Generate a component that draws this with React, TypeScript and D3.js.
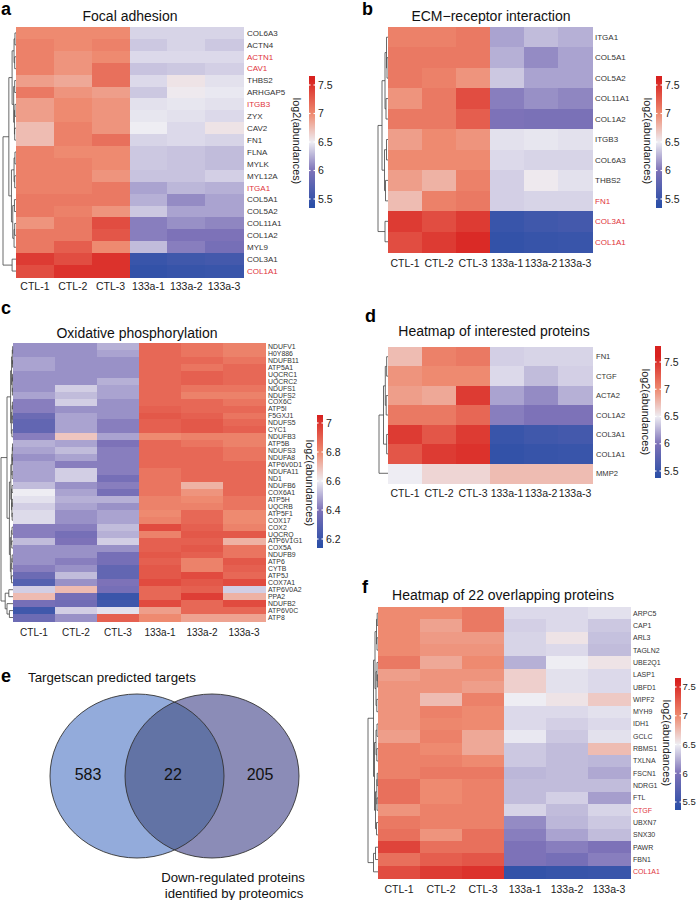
import React from "react";
import * as d3 from "d3";

type Tree = number | [number, Tree, Tree];

const COLS = ["CTL-1", "CTL-2", "CTL-3", "133a-1", "133a-2", "133a-3"];
const TICKS_MAIN = [5.5, 6, 6.5, 7, 7.5];
const TICKS_OX = [6.2, 6.4, 6.6, 6.8, 7];

// ---------- a: Focal adhesion ----------
const A_ROWS = ["COL6A3", "ACTN4", "ACTN1", "CAV1", "THBS2", "ARHGAP5", "ITGB3", "ZYX", "CAV2", "FN1", "FLNA", "MYLK", "MYL12A", "ITGA1", "COL5A1", "COL5A2", "COL11A1", "COL1A2", "MYL9", "COL3A1", "COL1A1"];
const A_RED = ["ACTN1", "CAV1", "ITGB3", "ITGA1", "COL1A1"];
const A_VALUES = [
  [7.0, 7.0, 7.0, 6.4, 6.4, 6.4],
  [7.05, 7.0, 7.05, 6.35, 6.4, 6.35],
  [7.05, 6.95, 7.0, 6.42, 6.42, 6.42],
  [7.05, 6.95, 7.15, 6.33, 6.35, 6.38],
  [6.9, 6.85, 7.15, 6.42, 6.55, 6.45],
  [7.1, 6.95, 6.9, 6.35, 6.52, 6.48],
  [6.9, 7.0, 6.95, 6.45, 6.47, 6.45],
  [6.9, 7.0, 6.95, 6.47, 6.45, 6.42],
  [6.75, 7.05, 6.95, 6.5, 6.42, 6.55],
  [6.75, 7.05, 7.15, 6.4, 6.42, 6.4],
  [7.05, 7.0, 7.0, 6.35, 6.33, 6.3],
  [7.05, 7.05, 7.0, 6.35, 6.33, 6.3],
  [7.05, 7.05, 6.95, 6.33, 6.33, 6.38],
  [7.05, 7.05, 7.1, 6.2, 6.28, 6.25],
  [7.1, 7.1, 7.1, 6.25, 6.1, 6.2],
  [7.1, 7.05, 6.95, 6.35, 6.2, 6.2],
  [6.95, 7.1, 7.35, 6.05, 6.12, 6.08],
  [7.1, 7.1, 7.3, 6.05, 6.0, 6.0],
  [7.1, 7.25, 7.0, 6.3, 6.05, 5.95],
  [7.45, 7.35, 7.5, 5.5, 5.55, 5.58],
  [7.35, 7.5, 7.5, 5.45, 5.48, 5.5],
];
const A_TREE: Tree = [1.0,
  [0.55,
    [0.3, [0.15, [0.08, 0, 1], [0.1, 2, 3]], [0.18, [0.1, 4, 5], [0.12, [0.08, 6, 7], [0.1, 8, 9]]]],
    [0.35, [0.15, [0.08, 10, 11], [0.1, 12, 13]], [0.25, [0.12, 14, 15], [0.15, [0.1, 16, 17], 18]]]],
  [0.3, 19, 20]];

// ---------- b: ECM-receptor interaction ----------
const B_ROWS = ["ITGA1", "COL5A1", "COL5A2", "COL11A1", "COL1A2", "ITGB3", "COL6A3", "THBS2", "FN1", "COL3A1", "COL1A1"];
const B_RED = ["FN1", "COL3A1", "COL1A1"];
const B_VALUES = [
  [7.05, 7.05, 7.1, 6.2, 6.3, 6.25],
  [7.1, 7.1, 7.1, 6.25, 6.1, 6.2],
  [7.1, 7.05, 6.95, 6.35, 6.2, 6.2],
  [6.95, 7.1, 7.35, 6.05, 6.12, 6.08],
  [7.1, 7.1, 7.25, 6.0, 5.98, 5.98],
  [6.9, 7.0, 6.95, 6.45, 6.47, 6.45],
  [7.0, 7.0, 7.0, 6.42, 6.4, 6.4],
  [6.9, 6.8, 7.05, 6.38, 6.52, 6.45],
  [6.75, 7.05, 7.1, 6.38, 6.4, 6.4],
  [7.45, 7.35, 7.45, 5.5, 5.55, 5.58],
  [7.35, 7.45, 7.55, 5.45, 5.48, 5.5],
];
const B_TREE: Tree = [1.0,
  [0.6, [0.3, [0.15, 0, [0.1, 1, 2]], [0.2, 3, 4]], [0.35, [0.15, 5, 6], [0.25, 7, 8]]],
  [0.3, 9, 10]];

// ---------- c: Oxidative phosphorylation ----------
const C_ROWS = ["NDUFV1", "H0Y886", "NDUFB11", "ATP5A1", "UQCRC1", "UQCRC2", "NDUFS1", "NDUFS2", "COX6C", "ATP5I", "F5GXJ1", "NDUFS5", "CYC1", "NDUFB3", "ATP5B", "NDUFS3", "NDUFA8", "ATP6V0D1", "NDUFA11", "ND1", "NDUFB6", "COX6A1", "ATP5H", "UQCRB", "ATP5F1", "COX17", "COX2", "UQCRQ", "ATP6V1G1", "COX5A", "NDUFB9", "ATP6", "CYTB", "ATP5J", "COX7A1", "ATP6V0A2", "PPA2", "NDUFB2", "ATP6V0C", "ATP8"];
const C_RED: string[] = [];
const C_VALUES = [
  [6.45, 6.45, 6.5, 6.88, 6.85, 6.82],
  [6.45, 6.45, 6.48, 6.88, 6.85, 6.82],
  [6.48, 6.45, 6.45, 6.88, 6.88, 6.85],
  [6.48, 6.45, 6.45, 6.88, 6.85, 6.88],
  [6.45, 6.45, 6.45, 6.88, 6.9, 6.88],
  [6.45, 6.45, 6.5, 6.88, 6.9, 6.88],
  [6.45, 6.55, 6.48, 6.88, 6.85, 6.85],
  [6.48, 6.52, 6.48, 6.88, 6.82, 6.82],
  [6.42, 6.55, 6.45, 6.88, 6.88, 6.85],
  [6.42, 6.45, 6.45, 6.9, 6.88, 6.88],
  [6.35, 6.48, 6.45, 6.92, 6.9, 6.85],
  [6.32, 6.48, 6.42, 6.9, 6.92, 6.88],
  [6.32, 6.48, 6.42, 6.9, 6.92, 6.9],
  [6.42, 6.68, 6.48, 6.8, 6.82, 6.82],
  [6.5, 6.48, 6.4, 6.88, 6.85, 6.82],
  [6.48, 6.52, 6.42, 6.88, 6.88, 6.85],
  [6.45, 6.48, 6.42, 6.88, 6.88, 6.85],
  [6.48, 6.42, 6.42, 6.88, 6.88, 6.88],
  [6.48, 6.55, 6.42, 6.85, 6.88, 6.88],
  [6.48, 6.55, 6.38, 6.85, 6.88, 6.88],
  [6.52, 6.45, 6.42, 6.85, 6.72, 6.88],
  [6.6, 6.48, 6.38, 6.85, 6.78, 6.88],
  [6.58, 6.5, 6.5, 6.82, 6.8, 6.85],
  [6.55, 6.48, 6.45, 6.82, 6.82, 6.85],
  [6.57, 6.45, 6.48, 6.8, 6.88, 6.8],
  [6.57, 6.45, 6.48, 6.82, 6.88, 6.8],
  [6.42, 6.42, 6.52, 6.95, 6.9, 6.82],
  [6.42, 6.38, 6.5, 6.82, 6.92, 6.92],
  [6.52, 6.4, 6.55, 6.9, 6.9, 6.72],
  [6.45, 6.45, 6.45, 6.9, 6.92, 6.85],
  [6.45, 6.45, 6.38, 6.92, 6.9, 6.85],
  [6.45, 6.42, 6.38, 6.9, 6.82, 6.92],
  [6.42, 6.45, 6.32, 6.92, 6.82, 6.9],
  [6.35, 6.52, 6.32, 6.92, 6.95, 6.88],
  [6.28, 6.45, 6.4, 6.95, 6.92, 6.95],
  [6.55, 6.7, 6.38, 6.88, 6.9, 6.55],
  [6.7, 6.38, 6.2, 6.88, 6.98, 6.72],
  [6.38, 6.36, 6.22, 6.95, 6.88, 6.95],
  [6.22, 6.55, 6.58, 6.76, 6.88, 6.88],
  [6.35, 6.45, 6.9, 6.8, 6.75, 6.75],
];
const C_TREE: Tree = [1.0,
  [0.5,
    [0.2, [0.12, [0.06, [0.03, 0, 1], [0.04, 2, 3]], [0.07, [0.04, 4, 5], [0.05, 6, 7]]], [0.14, [0.08, [0.05, 8, 9], [0.06, 10, 11]], [0.09, 12, 13]]],
    [0.3, [0.18, [0.1, [0.06, [0.04, 14, 15], [0.05, 16, 17]], [0.07, 18, 19]], [0.12, [0.08, 20, 21], [0.09, [0.06, 22, 23], [0.07, 24, 25]]]],
      [0.22, [0.14, [0.08, 26, 27], [0.1, 28, 29]], [0.16, [0.1, [0.07, 30, 31], 32], [0.12, 33, 34]]]]],
  [0.65, [0.35, 35, 36], [0.5, 37, [0.3, 38, 39]]]];

// ---------- d: Heatmap of interested proteins ----------
const D_ROWS = ["FN1", "CTGF", "ACTA2", "COL1A2", "COL3A1", "COL1A1", "MMP2"];
const D_RED: string[] = [];
const D_VALUES = [
  [6.75, 7.05, 7.1, 6.38, 6.4, 6.4],
  [6.95, 7.0, 7.0, 6.42, 6.3, 6.38],
  [6.9, 6.85, 7.45, 6.2, 6.1, 6.25],
  [7.1, 7.1, 7.2, 6.05, 6.0, 6.0],
  [7.45, 7.3, 7.45, 5.5, 5.55, 5.58],
  [7.3, 7.45, 7.5, 5.45, 5.48, 5.5],
  [6.5, 6.62, 6.62, 6.75, 6.75, 6.75],
];
const D_TREE: Tree = [1.0, [0.5, [0.3, [0.15, 0, 1], [0.2, 2, 3]], [0.15, 4, 5]], 6];

// ---------- f: Heatmap of 22 overlapping proteins ----------
const F_ROWS = ["ARPC5", "CAP1", "ARL3", "TAGLN2", "UBE2Q1", "LASP1", "UBFD1", "WIPF2", "MYH9", "IDH1", "GCLC", "RBMS1", "TXLNA", "FSCN1", "NDRG1", "FTL", "CTGF", "UBXN7", "SNX30", "PAWR", "FBN1", "COL1A1"];
const F_RED = ["CTGF", "COL1A1"];
const F_VALUES = [
  [7.0, 7.0, 7.1, 6.42, 6.42, 6.45],
  [7.0, 6.88, 7.1, 6.38, 6.42, 6.35],
  [7.0, 6.92, 6.92, 6.4, 6.55, 6.32],
  [7.0, 6.95, 6.95, 6.4, 6.42, 6.3],
  [7.1, 6.85, 7.0, 6.25, 6.5, 6.55],
  [6.9, 6.95, 6.95, 6.65, 6.45, 6.42],
  [6.95, 6.95, 6.9, 6.65, 6.45, 6.42],
  [6.95, 6.75, 7.05, 6.5, 6.55, 6.68],
  [6.95, 7.05, 7.0, 6.42, 6.42, 6.45],
  [6.95, 7.02, 7.0, 6.42, 6.38, 6.42],
  [6.9, 7.05, 6.85, 6.48, 6.35, 6.45],
  [7.05, 7.0, 6.85, 6.35, 6.3, 6.75],
  [7.05, 7.05, 7.0, 6.35, 6.3, 6.28],
  [7.05, 7.1, 7.1, 6.28, 6.3, 6.22],
  [7.15, 7.0, 7.05, 6.3, 6.3, 6.3],
  [7.15, 7.0, 7.05, 6.3, 6.38, 6.18],
  [6.95, 7.05, 7.05, 6.4, 6.3, 6.4],
  [7.1, 7.05, 7.05, 6.1, 6.28, 6.35],
  [7.15, 6.95, 7.15, 6.05, 6.2, 6.3],
  [7.4, 7.15, 7.15, 6.0, 6.05, 6.0],
  [7.15, 7.25, 7.3, 6.0, 5.95, 6.05],
  [7.35, 7.45, 7.5, 5.45, 5.48, 5.5],
];
const F_TREE: Tree = [1.0,
  [0.45,
    [0.3, [0.15, [0.08, 0, 1], [0.1, 2, 3]], [0.2, [0.1, 4, [0.06, 5, 6]], [0.12, 7, 8]]],
    [0.35, [0.2, [0.1, 9, 10], [0.12, 11, 12]], [0.25, [0.12, [0.08, 13, 14], [0.1, 15, 16]], [0.15, 17, 18]]]],
  [0.45, [0.25, 19, 20], 21]];

// ---------- e: Venn ----------
const VENN_COUNTS = [583, 22, 205];
const VENN_TITLE = "Targetscan predicted targets";
const VENN_SUB = ["Down-regulated proteins", "identified by proteomics"];

const FONT = "'Liberation Sans', Arial, Helvetica, sans-serif";
const PAL = ["#2c4fa7", "#7d72b8", "#eeedf3", "#ee8a70", "#d8211f"];
const mainColor = d3.scaleLinear<string>().domain([5.4, 6.0, 6.5, 7.0, 7.6]).range(PAL).interpolate(d3.interpolateRgb).clamp(true);
const oxColor = d3.scaleLinear<string>().domain([6.16, 6.4, 6.6, 6.8, 7.05]).range(PAL).interpolate(d3.interpolateRgb).clamp(true);

function dendro(tree: Tree, yOf: (i: number) => number, xLeaf: number, width: number): string[] {
  const segs: string[] = [];
  const walk = (t: Tree): { x: number; y: number } => {
    if (typeof t === "number") return { x: xLeaf, y: yOf(t) };
    const [h, l, r] = t;
    const a = walk(l), b = walk(r);
    const x = xLeaf - h * width;
    segs.push(`M${a.x},${a.y}H${x}V${b.y}H${b.x}`);
    return { x, y: (a.y + b.y) / 2 };
  };
  walk(tree);
  return segs;
}

type Cfg = {
  rows: string[]; values: number[][]; red: string[]; tree: Tree; color: (v: number) => string;
  x0: number; x1: number; y0: number; y1: number; treeX0: number;
  labelX: number; labelSize: number; colLabelY: number; colSize: number;
  title: string; titleX: number; titleY: number; letter: string; letterX: number; letterY: number;
  bar: { x: number; w: number; y0: number; y1: number; d: [number, number]; r: [number, number]; ticks: number[]; tickSize: number; gap: number };
  legendX: number; legendY: number;
};

function Heatmap({ c }: { c: Cfg }) {
  const xs = d3.scaleBand<string>().domain(COLS).range([c.x0, c.x1]);
  const ys = d3.scaleBand<string>().domain(c.rows).range([c.y0, c.y1]);
  const segs = dendro(c.tree, (i) => (ys(c.rows[i]) as number) + ys.bandwidth() / 2, c.x0, c.x0 - c.treeX0);
  const bs = d3.scaleLinear().domain(c.bar.d).range(c.bar.r);
  const nSlices = Math.round(c.bar.y1 - c.bar.y0);
  const slices = d3.range(nSlices).map((k) => c.bar.y0 + k);
  return (
    <g fontFamily={FONT}>
      <text x={c.letterX} y={c.letterY} fontSize={18} fontWeight="bold" fill="#000">{c.letter}</text>
      <text x={c.titleX} y={c.titleY} fontSize={14} textAnchor="middle" fill="#111">{c.title}</text>
      <g shapeRendering="crispEdges">
        {c.rows.map((r, i) =>
          COLS.map((col, j) => (
            <rect key={r + col} x={xs(col)} y={ys(r)} width={xs.bandwidth() + 0.5} height={ys.bandwidth() + 0.5} fill={c.color(c.values[i][j])} />
          ))
        )}
      </g>
      <g fill="none" stroke="#444" strokeWidth={0.8}>
        {segs.map((s, i) => <path key={i} d={s} />)}
      </g>
      {c.rows.map((r) => (
        <text key={r} x={c.labelX} y={(ys(r) as number) + ys.bandwidth() / 2} dy="0.35em" fontSize={c.labelSize}
          fill={c.red.includes(r) ? "#e0343c" : "#333"}>{r}</text>
      ))}
      {COLS.map((col) => (
        <text key={col} x={(xs(col) as number) + xs.bandwidth() / 2} y={c.colLabelY} fontSize={c.colSize} textAnchor="middle" fill="#222">{col}</text>
      ))}
      <g shapeRendering="crispEdges">
        {slices.map((y) => (
          <rect key={y} x={c.bar.x} y={y} width={c.bar.w} height={1.2} fill={c.color(bs.invert(y + 0.5))} />
        ))}
      </g>
      {c.bar.ticks.map((t) => (
        <g key={t}>
          <line x1={c.bar.x - 1} x2={c.bar.x + 1.5} y1={bs(t)} y2={bs(t)} stroke="#fff" strokeWidth={1.2} />
          <line x1={c.bar.x + c.bar.w - 1.5} x2={c.bar.x + c.bar.w + 1} y1={bs(t)} y2={bs(t)} stroke="#fff" strokeWidth={1.2} />
          <text x={c.bar.x + c.bar.w + c.bar.gap} y={bs(t)} dy="0.35em" fontSize={c.bar.tickSize} fill="#222">{String(t)}</text>
        </g>
      ))}
      <text transform={`translate(${c.legendX},${c.legendY}) rotate(90)`} textAnchor="middle" dy="0.35em" fontSize={10.8} fill="#222">log2(abundances)</text>
    </g>
  );
}

const CFG_A: Cfg = {
  rows: A_ROWS, values: A_VALUES, red: A_RED, tree: A_TREE, color: mainColor,
  x0: 16, x1: 243, y0: 27, y1: 277, treeX0: 3, labelX: 247, labelSize: 8, colLabelY: 290, colSize: 10.5,
  title: "Focal adhesion", titleX: 130, titleY: 21, letter: "a", letterX: 1, letterY: 15,
  bar: { x: 309, w: 6, y0: 76, y1: 208, d: [5.5, 7.5], r: [199, 85], ticks: TICKS_MAIN, tickSize: 10.5, gap: 3 }, legendX: 297, legendY: 141,
};
const CFG_B: Cfg = {
  rows: B_ROWS, values: B_VALUES, red: B_RED, tree: B_TREE, color: mainColor,
  x0: 388, x1: 592, y0: 27, y1: 252, treeX0: 378, labelX: 595, labelSize: 8, colLabelY: 267, colSize: 10.5,
  title: "ECM\u2212receptor interaction", titleX: 491, titleY: 21, letter: "b", letterX: 362, letterY: 15,
  bar: { x: 656, w: 6, y0: 76, y1: 208, d: [5.5, 7.5], r: [199, 85], ticks: TICKS_MAIN, tickSize: 10.5, gap: 3 }, legendX: 648, legendY: 141,
};
const CFG_C: Cfg = {
  rows: C_ROWS, values: C_VALUES, red: C_RED, tree: C_TREE, color: oxColor,
  x0: 13, x1: 265, y0: 343, y1: 621, treeX0: 1, labelX: 268, labelSize: 6.9, colLabelY: 636, colSize: 10,
  title: "Oxidative phosphorylation", titleX: 137, titleY: 338, letter: "c", letterX: 1, letterY: 314,
  bar: { x: 317, w: 6, y0: 415, y1: 548, d: [6.2, 7.0], r: [539, 423], ticks: TICKS_OX, tickSize: 10.5, gap: 3 }, legendX: 310, legendY: 483,
};
const CFG_D: Cfg = {
  rows: D_ROWS, values: D_VALUES, red: D_RED, tree: D_TREE, color: mainColor,
  x0: 388, x1: 592, y0: 347, y1: 483, treeX0: 379, labelX: 596, labelSize: 7.6, colLabelY: 497, colSize: 10.5,
  title: "Heatmap of interested proteins", titleX: 494, titleY: 336, letter: "d", letterX: 365, letterY: 322,
  bar: { x: 655, w: 6, y0: 346, y1: 478, d: [5.5, 7.5], r: [471, 362], ticks: TICKS_MAIN, tickSize: 10.5, gap: 3 }, legendX: 646, legendY: 412,
};
const CFG_F: Cfg = {
  rows: F_ROWS, values: F_VALUES, red: F_RED, tree: F_TREE, color: mainColor,
  x0: 378, x1: 630, y0: 607, y1: 878, treeX0: 368, labelX: 633, labelSize: 7, colLabelY: 893, colSize: 10.5,
  title: "Heatmap of 22 overlapping proteins", titleX: 503, titleY: 600, letter: "f", letterX: 362, letterY: 593,
  bar: { x: 675, w: 6, y0: 678, y1: 810, d: [5.5, 7.5], r: [802, 687], ticks: TICKS_MAIN, tickSize: 9.5, gap: 1.5 }, legendX: 667, legendY: 743,
};

function Venn() {
  const L = { cx: 137, cy: 776, rx: 87, ry: 82 };
  const R = { cx: 212, cy: 776, rx: 87, ry: 82 };
  return (
    <g fontFamily={FONT}>
      <defs>
        <clipPath id="clipL"><ellipse cx={L.cx} cy={L.cy} rx={L.rx} ry={L.ry} /></clipPath>
      </defs>
      <text x={1} y={682} fontSize={18} fontWeight="bold">e</text>
      <text x={28} y={682} fontSize={13.3} fill="#111">{VENN_TITLE}</text>
      <ellipse cx={L.cx} cy={L.cy} rx={L.rx} ry={L.ry} fill="#93abdb" />
      <ellipse cx={R.cx} cy={R.cy} rx={R.rx} ry={R.ry} fill="#8b8cb7" />
      <ellipse cx={R.cx} cy={R.cy} rx={R.rx} ry={R.ry} fill="#6273a5" clipPath="url(#clipL)" />
      <ellipse cx={L.cx} cy={L.cy} rx={L.rx} ry={L.ry} fill="none" stroke="#333" strokeWidth={0.9} />
      <ellipse cx={R.cx} cy={R.cy} rx={R.rx} ry={R.ry} fill="none" stroke="#333" strokeWidth={0.9} />
      <text x={88} y={780} fontSize={16} textAnchor="middle" fill="#111">{VENN_COUNTS[0]}</text>
      <text x={173} y={780} fontSize={16} textAnchor="middle" fill="#111">{VENN_COUNTS[1]}</text>
      <text x={260} y={780} fontSize={16} textAnchor="middle" fill="#111">{VENN_COUNTS[2]}</text>
      <text x={233} y={882} fontSize={13.2} textAnchor="middle" fill="#111">{VENN_SUB[0]}</text>
      <text x={234} y={898} fontSize={13.2} textAnchor="middle" fill="#111">{VENN_SUB[1]}</text>
    </g>
  );
}

export default function App() {
  return (
    <svg width={698} height={900} viewBox="0 0 698 900" style={{ position: "absolute", left: 0, top: 0, background: "#fff" }}>
      <rect width={698} height={900} fill="#fff" />
      <Heatmap c={CFG_A} />
      <Heatmap c={CFG_B} />
      <Heatmap c={CFG_C} />
      <Heatmap c={CFG_D} />
      <Heatmap c={CFG_F} />
      <Venn />
    </svg>
  );
}
